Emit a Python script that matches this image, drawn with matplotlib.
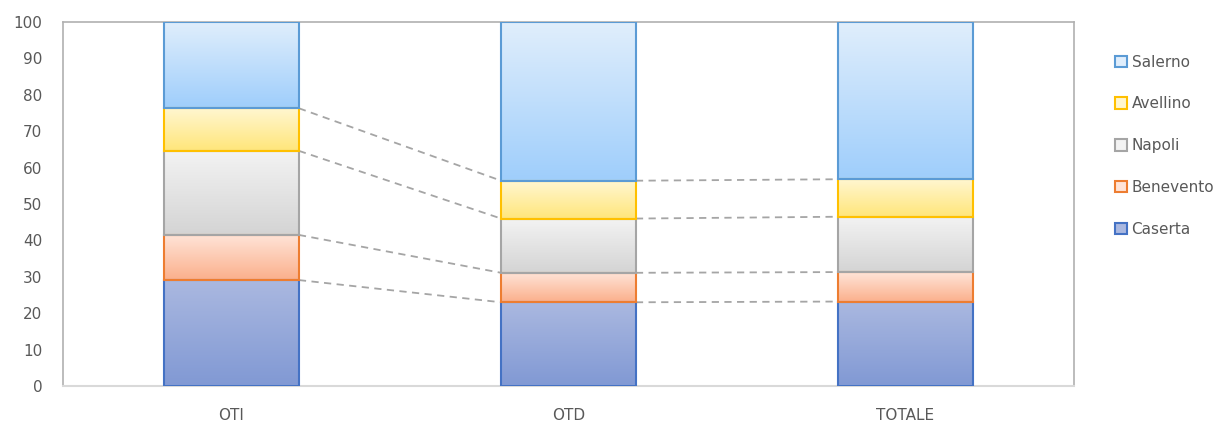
import numpy as np
import matplotlib.pyplot as plt
from matplotlib.colors import LinearSegmentedColormap
from matplotlib.patches import Patch

categories = ["OTI", "OTD", "TOTALE"]
series = ["Caserta", "Benevento", "Napoli", "Avellino", "Salerno"]
caserta = [29.1, 23.0, 23.2]
benevento = [12.4, 8.1, 8.1]
napoli = [23.1, 14.9, 15.2]
avellino = [11.7, 10.4, 10.3]
salerno = [23.7, 43.6, 43.2]
yticks = list(range(0, 101, 10))

# (top colour, bottom colour, edge colour)
styles = {
    "Caserta": ("#aab8e0", "#8199d4", "#4472c4"),
    "Benevento": ("#ffe4d8", "#fbb08c", "#ed7d31"),
    "Napoli": ("#f3f3f3", "#d4d4d4", "#a5a5a5"),
    "Avellino": ("#fff6d0", "#ffe67a", "#ffc000"),
    "Salerno": ("#e0eefc", "#9fcefb", "#5b9bd5"),
}

values = [caserta, benevento, napoli, avellino, salerno]

fig = plt.figure(figsize=(12.25, 4.26), dpi=100)
ax = fig.add_axes([63 / 1225, 1 - 386 / 426, 1011 / 1225, 364 / 426])

x = np.arange(len(categories))
width = 0.40
bottom = np.zeros(len(categories))
tops = []
grad = np.linspace(0, 1, 64).reshape(-1, 1)
for name, vals in zip(series, values):
    top_c, bot_c, edge_c = styles[name]
    cmap = LinearSegmentedColormap.from_list(name, [bot_c, top_c])
    bars = ax.bar(x, vals, width, bottom=bottom, facecolor="none",
                  edgecolor=edge_c, linewidth=1.5, zorder=3)
    for b in bars:
        ax.imshow(grad, cmap=cmap, origin="lower", aspect="auto",
                  extent=(b.get_x(), b.get_x() + b.get_width(),
                          b.get_y(), b.get_y() + b.get_height()), zorder=2)
    bottom = bottom + np.array(vals)
    tops.append(bottom.copy())

# series lines between bars
for level in tops[:-1]:
    for i in range(len(categories) - 1):
        ax.plot([x[i] + width / 2, x[i + 1] - width / 2], [level[i], level[i + 1]],
                color="#a5a5a5", linestyle=(0, (4, 3)), linewidth=1.3, zorder=1)

ax.set_xlim(-0.5, len(categories) - 0.5)
ax.set_ylim(0, 100)
ax.set_yticks(yticks)
ax.set_xticks(x)
ax.set_xticklabels(categories)
ax.tick_params(length=0, labelsize=11, colors="#595959")
ax.tick_params(axis="x", pad=16)
ax.tick_params(axis="y", pad=15)
for s in ["left", "top", "right"]:
    ax.spines[s].set_color("#b0b0b0")
    ax.spines[s].set_linewidth(1.2)
ax.spines["bottom"].set_color("#d9d9d9")
ax.spines["bottom"].set_linewidth(1.5)

handles = [Patch(facecolor=styles[n][0], edgecolor=styles[n][2], linewidth=1.5)
           for n in series[::-1]]
fig.legend(handles, series[::-1], loc="upper left", bbox_to_anchor=(1101 / 1225, 1 - 41 / 426),
           frameon=False, fontsize=11, labelcolor="#595959", labelspacing=1.75,
           handlelength=0.8, handleheight=0.8, handletextpad=0.3)

fig.savefig("out.png", dpi=100)
